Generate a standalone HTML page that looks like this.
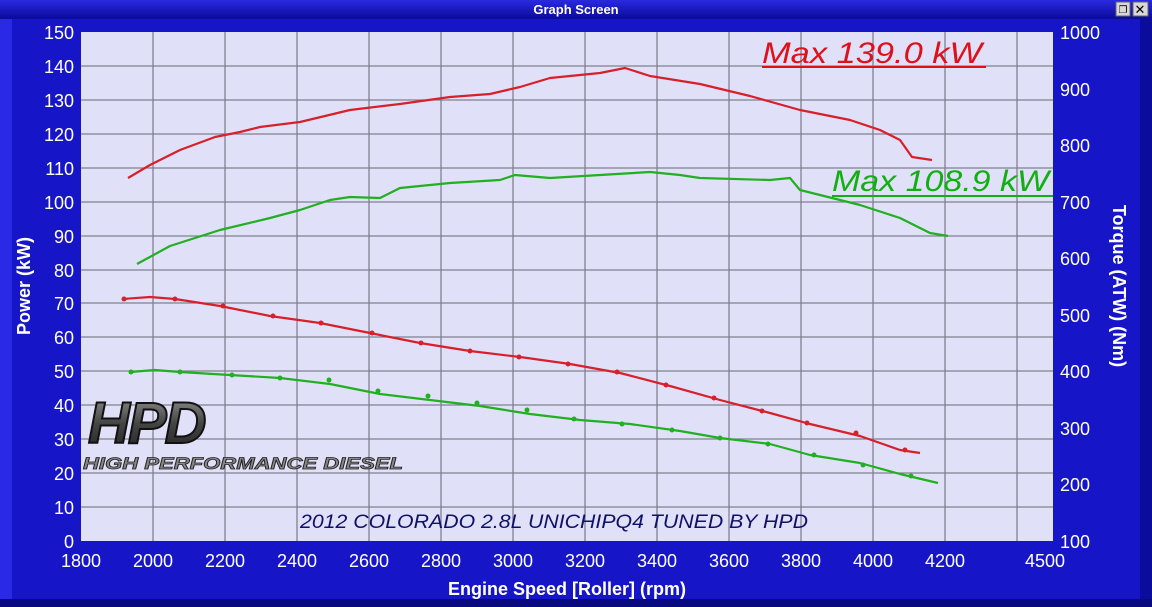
<!DOCTYPE html>
<html><head><meta charset="utf-8"><style>
body{margin:0;width:1152px;height:607px;overflow:hidden;background:#1414c8;}
svg{display:block;font-family:"Liberation Sans",sans-serif;}
</style></head><body>
<svg width="1152" height="607" viewBox="0 0 1152 607">
<defs>
<linearGradient id="tb" x1="0" y1="0" x2="0" y2="1"><stop offset="0" stop-color="#2a2ae0"/><stop offset="1" stop-color="#0a0a9a"/></linearGradient>
<linearGradient id="lg" x1="0" y1="0" x2="0" y2="1"><stop offset="0" stop-color="#999"/><stop offset="0.5" stop-color="#444"/><stop offset="1" stop-color="#222"/></linearGradient>
</defs>
<rect x="0" y="0" width="1152" height="607" fill="#1616c8"/>
<rect x="0" y="0" width="1152" height="19" fill="url(#tb)"/>
<text x="576" y="14" fill="#fff" font-size="13" font-weight="bold" text-anchor="middle">Graph Screen</text>
<rect x="1116" y="2" width="14" height="14" fill="#d8d8d8" stroke="#666"/>
<rect x="1133" y="2" width="15" height="14" fill="#d8d8d8" stroke="#666"/>
<text x="1140" y="14" font-size="13" text-anchor="middle" fill="#000">✕</text>
<text x="1123" y="13" font-size="10" text-anchor="middle" fill="#000">❐</text>
<rect x="0" y="19" width="12" height="582" fill="#2a2ae6"/>
<rect x="1140" y="19" width="12" height="582" fill="#0c0c9c"/>
<rect x="0" y="599" width="1152" height="8" fill="#0a0a80"/>
<rect x="81" y="32" width="972" height="509" fill="#e0e0f8"/>
<g stroke="#808090" stroke-width="1.3">
<line x1="153" y1="32" x2="153" y2="541"/><line x1="225" y1="32" x2="225" y2="541"/><line x1="297" y1="32" x2="297" y2="541"/><line x1="369" y1="32" x2="369" y2="541"/><line x1="441" y1="32" x2="441" y2="541"/><line x1="513" y1="32" x2="513" y2="541"/><line x1="585" y1="32" x2="585" y2="541"/><line x1="657" y1="32" x2="657" y2="541"/><line x1="729" y1="32" x2="729" y2="541"/><line x1="801" y1="32" x2="801" y2="541"/><line x1="873" y1="32" x2="873" y2="541"/><line x1="945" y1="32" x2="945" y2="541"/><line x1="1017" y1="32" x2="1017" y2="541"/>
<line x1="81" y1="66" x2="1053" y2="66"/><line x1="81" y1="100" x2="1053" y2="100"/><line x1="81" y1="134" x2="1053" y2="134"/><line x1="81" y1="168" x2="1053" y2="168"/><line x1="81" y1="202" x2="1053" y2="202"/><line x1="81" y1="236" x2="1053" y2="236"/><line x1="81" y1="270" x2="1053" y2="270"/><line x1="81" y1="303" x2="1053" y2="303"/><line x1="81" y1="337" x2="1053" y2="337"/><line x1="81" y1="371" x2="1053" y2="371"/><line x1="81" y1="405" x2="1053" y2="405"/><line x1="81" y1="439" x2="1053" y2="439"/><line x1="81" y1="473" x2="1053" y2="473"/><line x1="81" y1="507" x2="1053" y2="507"/>
</g>
<text x="88" y="443" font-size="58" font-weight="bold" font-style="italic" fill="url(#lg)" stroke="#111" stroke-width="2" letter-spacing="-2">HPD</text>
<text x="83" y="469" font-size="17" font-weight="bold" font-style="italic" fill="#888" stroke="#222" stroke-width="0.8" textLength="320" lengthAdjust="spacingAndGlyphs">HIGH PERFORMANCE DIESEL</text>
<text x="300" y="528" font-size="19" font-style="italic" fill="#10106a" textLength="508" lengthAdjust="spacingAndGlyphs">2012 COLORADO 2.8L UNICHIPQ4 TUNED BY HPD</text>
<g fill="none" stroke-width="2.2" stroke-linejoin="round">
<polyline stroke="#d8202a" points="128,178 150,165 180,150 215,137 240,132 260,127 300,122 350,110 400,104 450,97 490,94 520,87 550,78 600,73 625,68 650,76 700,84 750,96 800,110 850,120 880,130 900,140 912,157 932,160"/>
<polyline stroke="#20b020" points="137,264 170,246 220,230 270,218 300,210 330,200 350,197 380,198 400,188 450,183 500,180 515,175 550,178 600,175 650,172 680,175 700,178 770,180 790,178 800,190 820,195 860,205 900,218 930,233 948,236"/>
<polyline stroke="#d8202a" points="123,299 150,297 175,299 220,306 270,316 320,323 370,333 420,343 470,351 520,357 570,364 620,373 670,386 720,400 770,413 810,424 860,436 900,450 920,453"/>
<polyline stroke="#20b020" points="130,372 155,370 180,372 230,375 280,378 330,384 380,394 430,400 480,406 530,414 580,420 630,424 680,431 720,438 770,444 810,455 860,463 900,474 938,483"/>
</g>
<g fill="#d8202a"><circle cx="124" cy="299" r="2.5"/><circle cx="175" cy="299" r="2.5"/><circle cx="223" cy="306" r="2.5"/><circle cx="273" cy="316" r="2.5"/><circle cx="321" cy="323" r="2.5"/><circle cx="372" cy="333" r="2.5"/><circle cx="421" cy="343" r="2.5"/><circle cx="470" cy="351" r="2.5"/><circle cx="519" cy="357" r="2.5"/><circle cx="568" cy="364" r="2.5"/><circle cx="617" cy="372" r="2.5"/><circle cx="666" cy="385" r="2.5"/><circle cx="714" cy="398" r="2.5"/><circle cx="762" cy="411" r="2.5"/><circle cx="807" cy="423" r="2.5"/><circle cx="856" cy="433" r="2.5"/><circle cx="905" cy="450" r="2.5"/></g>
<g fill="#20b020"><circle cx="131" cy="372" r="2.5"/><circle cx="180" cy="372" r="2.5"/><circle cx="232" cy="375" r="2.5"/><circle cx="280" cy="378" r="2.5"/><circle cx="329" cy="380" r="2.5"/><circle cx="378" cy="391" r="2.5"/><circle cx="428" cy="396" r="2.5"/><circle cx="477" cy="403" r="2.5"/><circle cx="527" cy="410" r="2.5"/><circle cx="574" cy="419" r="2.5"/><circle cx="622" cy="424" r="2.5"/><circle cx="672" cy="430" r="2.5"/><circle cx="720" cy="438" r="2.5"/><circle cx="768" cy="444" r="2.5"/><circle cx="814" cy="455" r="2.5"/><circle cx="863" cy="465" r="2.5"/><circle cx="911" cy="476" r="2.5"/></g>
<text x="762" y="63" font-size="30" font-style="italic" fill="#e0101a" textLength="220" lengthAdjust="spacingAndGlyphs">Max 139.0 kW</text>
<line x1="762" y1="67" x2="986" y2="67" stroke="#e0101a" stroke-width="2"/>
<text x="832" y="191" font-size="30" font-style="italic" fill="#10b010" textLength="217" lengthAdjust="spacingAndGlyphs">Max 108.9 kW</text>
<line x1="832" y1="196" x2="1053" y2="196" stroke="#10b010" stroke-width="2"/>
<g fill="#fff" font-size="18" text-anchor="end">
<text x="74" y="39">150</text><text x="74" y="73">140</text><text x="74" y="107">130</text><text x="74" y="141">120</text><text x="74" y="175">110</text><text x="74" y="209">100</text><text x="74" y="243">90</text><text x="74" y="277">80</text><text x="74" y="310">70</text><text x="74" y="344">60</text><text x="74" y="378">50</text><text x="74" y="412">40</text><text x="74" y="446">30</text><text x="74" y="480">20</text><text x="74" y="514">10</text><text x="74" y="548">0</text>
</g>
<g fill="#fff" font-size="18">
<text x="1060" y="39">1000</text><text x="1060" y="96">900</text><text x="1060" y="152">800</text><text x="1060" y="209">700</text><text x="1060" y="265">600</text><text x="1060" y="322">500</text><text x="1060" y="378">400</text><text x="1060" y="435">300</text><text x="1060" y="491">200</text><text x="1060" y="548">100</text>
</g>
<g fill="#fff" font-size="18" text-anchor="middle">
<text x="81" y="567">1800</text><text x="153" y="567">2000</text><text x="225" y="567">2200</text><text x="297" y="567">2400</text><text x="369" y="567">2600</text><text x="441" y="567">2800</text><text x="513" y="567">3000</text><text x="585" y="567">3200</text><text x="657" y="567">3400</text><text x="729" y="567">3600</text><text x="801" y="567">3800</text><text x="873" y="567">4000</text><text x="945" y="567">4200</text><text x="1045" y="567">4500</text>
</g>
<text x="567" y="595" fill="#fff" font-size="18" font-weight="bold" text-anchor="middle">Engine Speed [Roller] (rpm)</text>
<text transform="translate(30,286) rotate(-90)" fill="#fff" font-size="18" font-weight="bold" text-anchor="middle">Power (kW)</text>
<text transform="translate(1113,286) rotate(90)" fill="#fff" font-size="18" font-weight="bold" text-anchor="middle">Torque (ATW) (Nm)</text>
</svg>
</body></html>
